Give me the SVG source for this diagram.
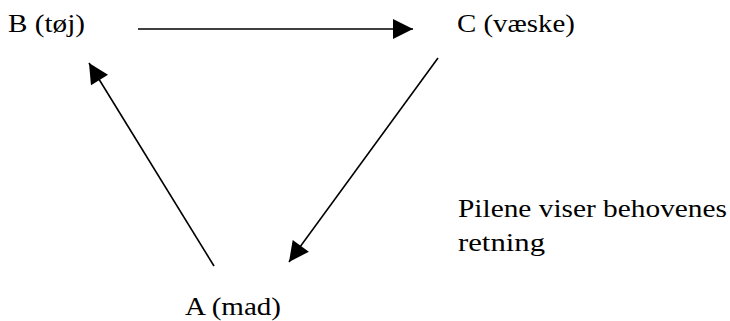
<svg xmlns="http://www.w3.org/2000/svg" width="730" height="321" viewBox="0 0 730 321" font-family="Liberation Serif, DejaVu Serif, serif" font-size="26">
  <style>
    .edge { stroke: #000; stroke-width: 1.6; fill: none; marker-end: url(#head); }
  </style>
  <defs>
    <marker id="head" markerUnits="userSpaceOnUse" markerWidth="22" markerHeight="22" viewBox="0 0 22 22" refX="21" refY="11" orient="auto">
      <path d="M1,1 L21,11 L1,21 Z" fill="#000"/>
    </marker>
  </defs>
  <rect width="730" height="321" fill="#fff"/>

  <!-- labels are widened slightly so each spans the same run as the printed text -->
  <g id="node-b">
    <text x="8" y="32" textLength="77" lengthAdjust="spacingAndGlyphs">B (tøj)</text>
  </g>
  <g id="node-c">
    <text x="457" y="32" textLength="118" lengthAdjust="spacingAndGlyphs">C (væske)</text>
  </g>
  <g id="node-a">
    <text x="185" y="315" textLength="96" lengthAdjust="spacingAndGlyphs">A (mad)</text>
  </g>
  <g id="note">
    <text x="458" y="217" textLength="269" lengthAdjust="spacingAndGlyphs">Pilene viser behovenes</text>
    <text x="458" y="251" textLength="87" lengthAdjust="spacingAndGlyphs">retning</text>
  </g>

  <g id="connectors">
    <line class="edge" x1="138" y1="29" x2="413" y2="29"/>
    <line class="edge" x1="438" y1="58" x2="289" y2="262"/>
    <line class="edge" x1="214" y1="266" x2="89" y2="63"/>
  </g>
</svg>
